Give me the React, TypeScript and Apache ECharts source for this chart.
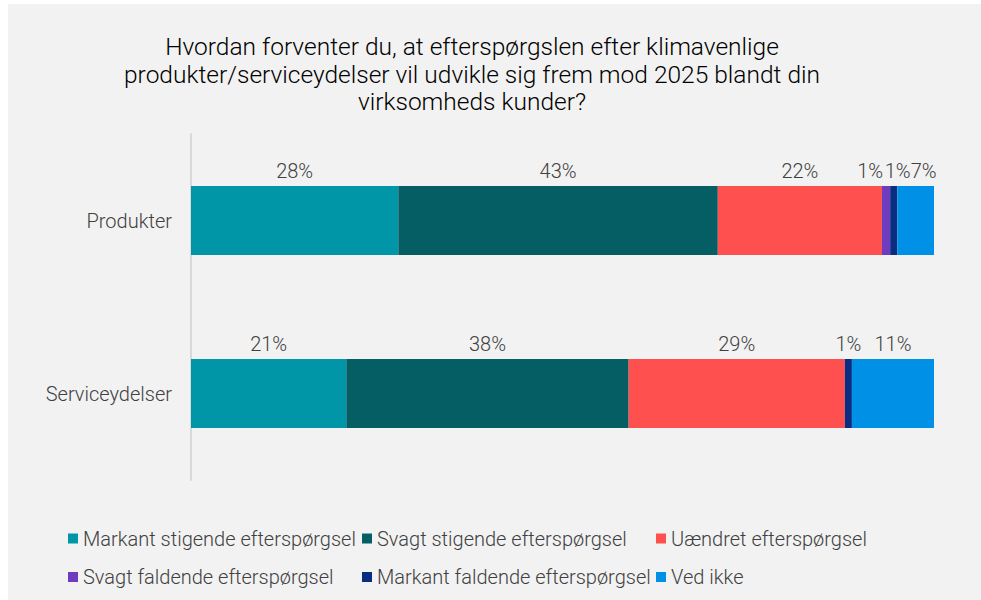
import React, { useEffect, useRef } from "react";
import * as echarts from "echarts";

const titleLines = [
  "Hvordan forventer du, at efterspørgslen efter klimavenlige",
  "produkter/serviceydelser vil udvikle sig frem mod 2025 blandt din",
  "virksomheds kunder?",
];

const categories = ["Produkter", "Serviceydelser"];

const seriesNames = [
  "Markant stigende efterspørgsel",
  "Svagt stigende efterspørgsel",
  "Uændret efterspørgsel",
  "Svagt faldende efterspørgsel",
  "Markant faldende efterspørgsel",
  "Ved ikke",
];

// values (per category: Produkter, Serviceydelser)
const markantStigende = [27.9, 20.9];
const svagtStigende = [43.0, 38.0];
const uaendret = [22.1, 29.1];
const svagtFaldende = [1.1, 0];
const markantFaldende = [0.95, 0.95];
const vedIkke = [5.4, 11.05];

// data labels as printed in the chart
const labelsMarkantStigende = ["28%", "21%"];
const labelsSvagtStigende = ["43%", "38%"];
const labelsUaendret = ["22%", "29%"];
const labelsSvagtFaldende = ["1%", ""];
const labelsMarkantFaldende = ["1%", "1%"];
const labelsVedIkke = ["7%", "11%"];

const colors = ["#0096a8", "#055e64", "#ff5050", "#6e3cbe", "#0a2d82", "#0091e6"];

const FONT = "Roboto, 'Noto Sans', sans-serif";

export default function App() {
  const ref = useRef<HTMLDivElement>(null);
  useEffect(() => {
    if (!ref.current) return;
    const chart = echarts.init(ref.current, undefined, { renderer: "svg" });
    const values = [markantStigende, svagtStigende, uaendret, svagtFaldende, markantFaldende, vedIkke];
    const labels = [
      labelsMarkantStigende,
      labelsSvagtStigende,
      labelsUaendret,
      labelsSvagtFaldende,
      labelsMarkantFaldende,
      labelsVedIkke,
    ];
    // label nudges to avoid overlap for the small segments (Produkter row)
    const nudges: Record<string, number> = { "3-0": -16, "4-0": 4, "5-0": 8 };

    const series = seriesNames.map((name, si) => ({
      name,
      type: "bar",
      stack: "total",
      barWidth: 69,
      itemStyle: { color: colors[si] },
      label: {
        show: true,
        position: "top",
        distance: 5,
        fontSize: 20,
        fontFamily: FONT,
        fontWeight: 300,
        color: "#404040",
      },
      data: values[si].map((v, ci) => ({
        value: v,
        label: {
          formatter: () => labels[si][ci],
          offset: [nudges[`${si}-${ci}`] || 0, 0],
          show: labels[si][ci] !== "",
        },
      })),
    }));

    const legendCols = [
      [seriesNames[0], seriesNames[3]],
      [seriesNames[1], seriesNames[4]],
      [seriesNames[2], seriesNames[5]],
    ];
    const legendLefts = [68, 362, 656];

    chart.setOption({
      animation: false,
      backgroundColor: "#ffffff",
      graphic: [
        {
          type: "rect",
          z: -10,
          silent: true,
          shape: { x: 8, y: 4, width: 973, height: 596 },
          style: { fill: "#f2f2f2" },
        },
      ],
      title: {
        text: titleLines.join("\n"),
        left: 467,
        top: 28,
        textAlign: "center",
        textStyle: {
          fontFamily: FONT,
          fontSize: 24.5,
          fontWeight: 300,
          color: "#000000",
          lineHeight: 27.5,
        },
      },
      legend: legendCols.map((col, i) => ({
        data: col,
        orient: "vertical",
        left: legendLefts[i],
        top: 527,
        icon: "rect",
        itemWidth: 10,
        itemHeight: 10,
        itemGap: 15.5,
        padding: 0,
        selectedMode: false,
        textStyle: {
          fontFamily: FONT,
          fontSize: 20,
          fontWeight: 300,
          color: "#404040",
          lineHeight: 23,
          padding: [0, 0, 0, 0],
        },
      })),
      grid: { left: 191, right: 47, top: 134, bottom: 120, containLabel: false },
      xAxis: {
        type: "value",
        min: 0,
        max: 100,
        show: false,
      },
      yAxis: {
        type: "category",
        data: categories,
        inverse: true,
        axisLine: { show: true, lineStyle: { color: "#d9d9d9", width: 2 } },
        axisTick: { show: false },
        axisLabel: {
          margin: 19,
          fontSize: 20,
          fontFamily: FONT,
          fontWeight: 300,
          color: "#404040",
        },
      },
      series,
    });
    return () => chart.dispose();
  }, []);
  return (
    <div
      ref={ref}
      style={{ position: "fixed", left: 0, top: 0, width: 981, height: 600 }}
    />
  );
}
